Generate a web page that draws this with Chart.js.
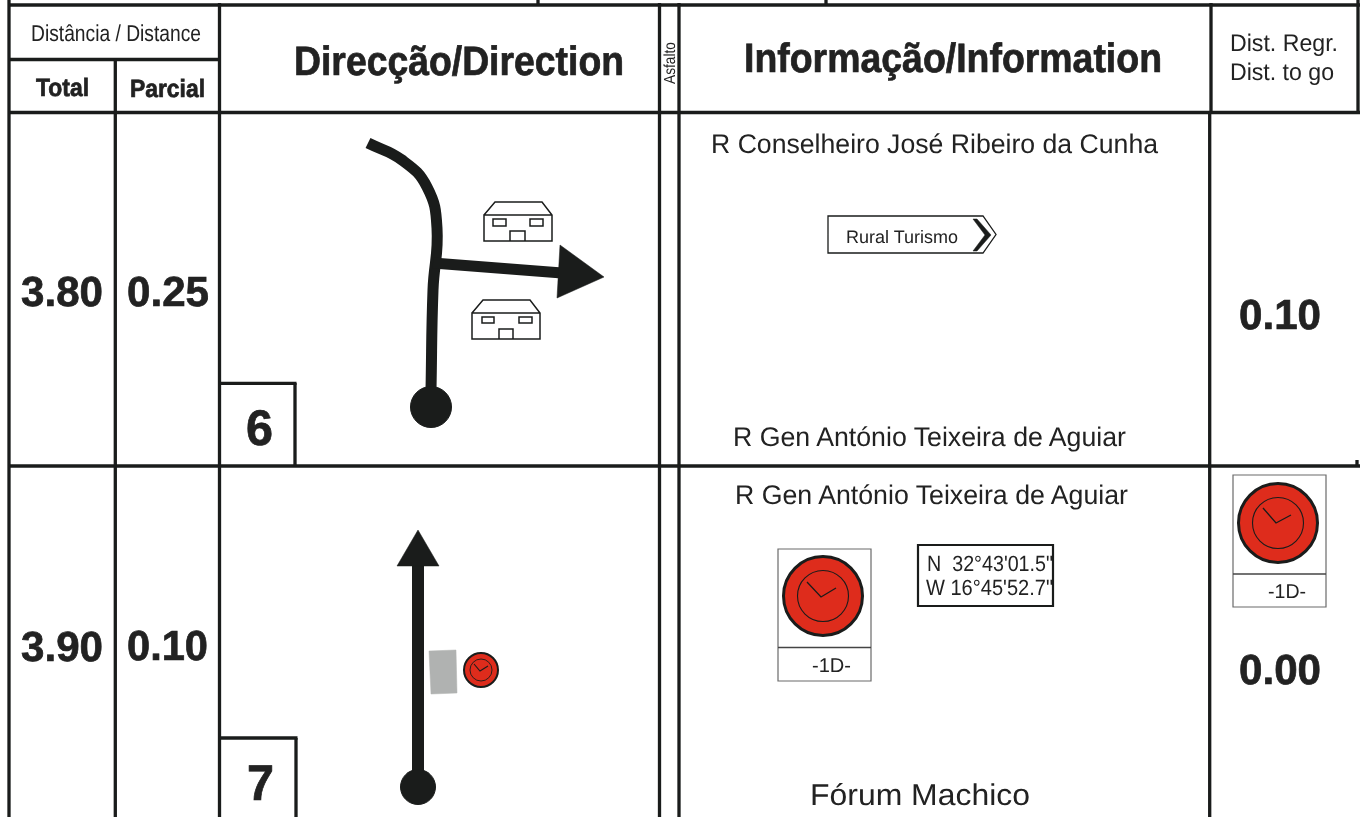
<!DOCTYPE html>
<html><head><meta charset="utf-8">
<style>html,body{margin:0;padding:0;background:#fff;overflow:hidden}canvas{display:block}</style>
<script src="https://cdn.jsdelivr.net/npm/chart.js@4"></script>
</head><body><canvas id="c" width="1360" height="817"></canvas>
<script>
// ---- text values ----
const headDistance = 'Distância / Distance';
const headTotal = 'Total';
const headPartial = 'Parcial';
const headDirection = 'Direcção/Direction';
const headSurface = 'Asfalto';
const headInformation = 'Informação/Information';
const headToGo = ['Dist. Regr.', 'Dist. to go'];
const rowNumbers = ['6', '7'];
const totals = ['3.80', '3.90'];
const partials = ['0.25', '0.10'];
const toGo = ['0.10', '0.00'];
const infoTop = ['R Conselheiro José Ribeiro da Cunha', 'R Gen António Teixeira de Aguiar'];
const infoBottom = ['R Gen António Teixeira de Aguiar', 'Fórum Machico'];
const signLabel = 'Rural Turismo';
const gpsLines = ['N  32°43\'01.5"', 'W 16°45\'52.7"'];
const stampLabel = '-1D-';

// ---- diagram geometry, in the units of the page's two linear axes ----
const gridLines = [
  [[8,5],[1360,5]], [[8,59.5],[219,59.5]], [[8,112.5],[1360,112.5]], [[8,466],[1360,466]],
  [[538,0],[538,5]], [[826,0],[826,5]],
  [[9,0],[9,817]], [[115.3,59],[115.3,817]], [[219.5,3],[219.5,817]],
  [[659.5,3],[659.5,817]], [[679,3],[679,817]],
  [[1211,3],[1211,112]], [[1209.7,112],[1209.7,817]],
  [[1358,0],[1358,112]], [[1357,460],[1357,466]],
  [[295,383],[295,466]], [[219,383.4],[296.5,383.4]],
  [[296,738],[296,817]], [[219,738],[297.5,738]]
];
const roadOneMain = [[368,143],[402,160],[427,187],[437,228],[433,290],[431,390]];
const roadOneBranch = [[433,263],[562,273]];
const roadOneHead = [[560,245],[604,277],[557,298],[560,245]];
const roadTwoMain = [[418,560],[418,787]];
const roadTwoHead = [[397,566],[418,530],[439,566],[397,566]];
const startDots = [[431,407,20.5],[418,787,17.5]];
const houseUpper = [
  [[484,215],[495,202],[542,202],[552,215],[552,241],[484,241],[484,215],[552,215]],
  [[493,219],[506,219],[506,226],[493,226],[493,219],[506,219]],
  [[530,219],[543,219],[543,226],[530,226],[530,219],[543,219]],
  [[510,241],[510,231],[525,231],[525,241]]
];
const houseLower = [
  [[472,313],[483,300],[530,300],[540,313],[540,339],[472,339],[472,313],[540,313]],
  [[482,317],[494,317],[494,323],[482,323],[482,317],[494,317]],
  [[519,317],[532,317],[532,323],[519,323],[519,317],[532,317]],
  [[499,339],[499,329],[513,329],[513,339]]
];
const signOutline = [[828,216],[983,216],[996,234.5],[983,253],[828,253],[828,216],[983,216]];
const signChevron = [[973,219],[977,219],[991,235],[977,251],[973,251],[985,235],[973,219]];
const gpsBox = [[918,545],[1053,545],[1053,606],[918,606],[918,545],[1053,545]];
const stampBoxes = [
  [[778,549],[871,549],[871,681],[778,681],[778,549],[871,549]],
  [[1233,475],[1326,475],[1326,607],[1233,607],[1233,475],[1326,475]]
];
const stampDividers = [[[778,647.5],[871,647.5]],[[1233,574],[1326,574]]];
const greyBlock = [[429,651],[456,650],[457,693],[431,694],[429,651]];
// clock: centre, outer radius, inner radius, hands centre, hand tips
const clocks = [
  {c:[823,596], outer:39.5, inner:25.5, w:3, iw:1.1, hands:[[807,582],[821,597],[836,588]]},
  {c:[1278,523], outer:39.5, inner:25.5, w:3, iw:1.1, hands:[[1263,508],[1276,523],[1291,515]]},
  {c:[481,670], outer:17, inner:11, w:2, iw:0.9, hands:[[474,664],[480,671],[488,666]]}
];

const INK = '#1a1c1b', RED = '#de2c1c', GREY = '#b0b2b1', BOX = '#6a6a6a';

// ---- datasets, listed back to front ----
const layers = [];
const toXY = pts => pts.map(p => ({x:p[0], y:p[1]}));
function path(pts, w, color, extra){
  layers.push(Object.assign({data:toXY(pts), showLine:true, pointRadius:0, borderWidth:w,
    borderColor:color, backgroundColor:'transparent', tension:0, fill:false, clip:false,
    borderCapStyle:'butt', borderJoinStyle:'miter'}, extra||{}));
}
function solid(pts, color){ path(pts, 0.5, color, {fill:'shape', backgroundColor:color}); }
function disc(x, y, r, fillColor, strokeColor, w){
  layers.push({data:[{x,y}], showLine:false, pointRadius:r, pointBackgroundColor:fillColor,
    pointBorderColor:strokeColor, pointBorderWidth:w, clip:false});
}
gridLines.forEach(l => path(l, 3.3, INK));
path(roadOneMain, 11, INK, {tension:0.45});
path(roadOneBranch, 11, INK);
solid(roadOneHead, INK);
path(roadTwoMain, 12, INK);
solid(roadTwoHead, INK);
startDots.forEach(d => disc(d[0], d[1], d[2], INK, INK, 1));
houseUpper.forEach(h => path(h, 1.5, INK));
houseLower.forEach(h => path(h, 1.5, INK));
path(signOutline, 1.3, INK);
solid(signChevron, INK);
path(gpsBox, 2.2, INK);
stampBoxes.forEach(b => path(b, 1.2, BOX));
stampDividers.forEach(b => path(b, 1.4, '#444'));
solid(greyBlock, GREY);
clocks.forEach(k => {
  disc(k.c[0], k.c[1], k.outer, RED, INK, k.w);
  disc(k.c[0], k.c[1], k.inner, 'transparent', INK, k.iw);
  path(k.hands, k.iw + 0.2, INK);
});

// ---- text table: string, left, baseline, target width, size, weight ----
const texts = [
  [headDistance,31,41,170,23,400], [headTotal,36,96,53,25,700], [headPartial,130,97,75,25,700],
  [headDirection,294,75,330,41,700], [headInformation,744,72,418,41,700],
  [headToGo[0],1230,51,108,24,400], [headToGo[1],1230,80,104,24,400],
  [totals[0],21,306,82,42,700], [partials[0],127,306,82,42,700], [rowNumbers[0],246,445,27,50,700], [toGo[0],1239,329,82,42,700],
  [totals[1],21,661,82,42,700], [partials[1],127,660,81,42,700], [rowNumbers[1],247,800,27,50,700], [toGo[1],1239,684,82,42,700],
  [infoTop[0],711,153,447,27,400], [infoBottom[0],733,446,393,27,400],
  [infoTop[1],735,504,393,27,400], [infoBottom[1],810,805,220,30,400],
  [signLabel,846,243,112,18,400], [gpsLines[0],927,571,126,22,400], [gpsLines[1],926,595,127,22,400],
  [stampLabel,812,672,39,20,400], [stampLabel,1268,598,38,20,400]
];
const textPlugin = {
  id:'sheetText',
  afterDatasetsDraw(chart){
    const {ctx, scales:{x, y}} = chart;
    const put = (s, px, py, w, size, weight, rot) => {
      ctx.save();
      ctx.textRendering = 'geometricPrecision';
      ctx.font = weight + ' ' + size + 'px "Liberation Sans", Arial, sans-serif';
      ctx.fillStyle = '#222';
      ctx.strokeStyle = '#222';
      ctx.lineWidth = 0.7;
      ctx.textBaseline = 'alphabetic'; ctx.textAlign = 'left';
      ctx.translate(x.getPixelForValue(px), y.getPixelForValue(py));
      if (rot) ctx.rotate(rot);
      ctx.scale(w / ctx.measureText(s).width, 1);
      ctx.fillText(s, 0, 0);
      if (weight === 700) ctx.strokeText(s, 0, 0);
      ctx.restore();
    };
    texts.forEach(t => put(t[0], t[1], t[2], t[3], t[4], t[5]));
    put(headSurface, 675, 84, 42, 16, 400, -Math.PI/2);
  }
};

new Chart(document.getElementById('c'), {
  type:'scatter',
  data:{datasets:layers.slice().reverse()},
  options:{
    responsive:false, animation:false, events:[],
    layout:{padding:0, autoPadding:false},
    plugins:{legend:{display:false}, tooltip:{enabled:false}, title:{display:false}},
    scales:{
      x:{type:'linear', min:0, max:1360, display:false},
      y:{type:'linear', min:0, max:817, reverse:true, display:false}
    }
  },
  plugins:[textPlugin]
});
</script></body></html>
